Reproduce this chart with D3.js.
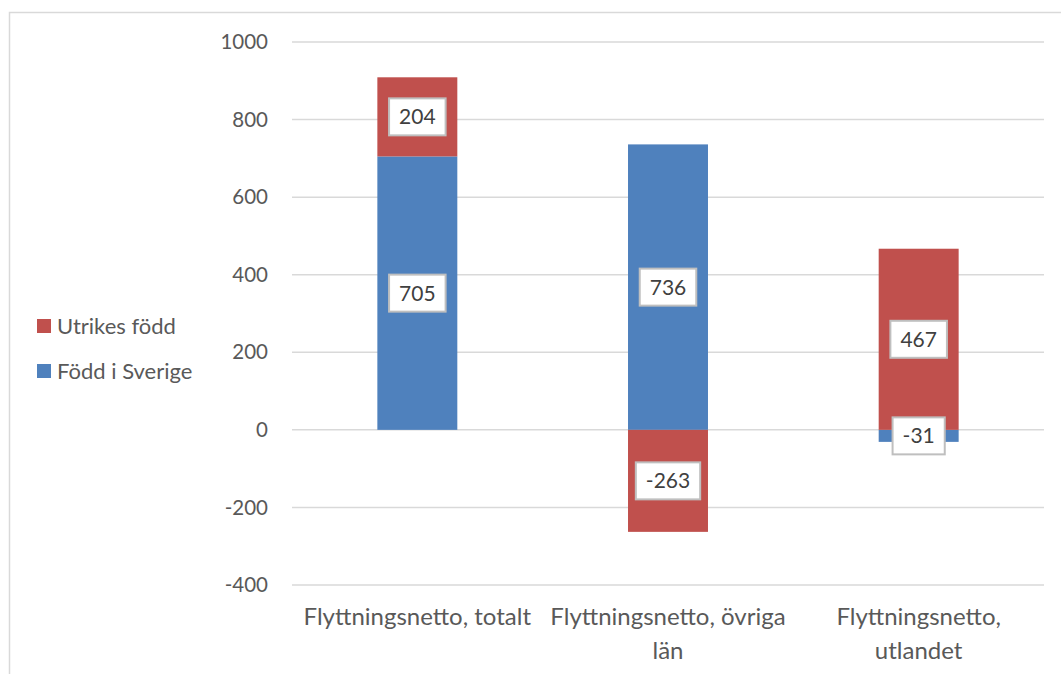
<!DOCTYPE html>
<html>
<head>
<meta charset="utf-8">
<script src="https://cdn.jsdelivr.net/npm/d3@7"></script>
<style>
  body { margin: 0; background: #fff; }
  text { font-family: Lato, "Open Sans", sans-serif; }
</style>
</head>
<body>
<svg id="chart" width="1061" height="674"></svg>
<script>
// chart data
var categories = ["Flyttningsnetto, totalt", "Flyttningsnetto, övriga\nlän", "Flyttningsnetto,\nutlandet"];
var seriesNames = ["Född i Sverige", "Utrikes född"];
var foddISverige = [705, 736, -31];
var utrikesFodd = [204, -263, 467];
var yTicks = [-400, -200, 0, 200, 400, 600, 800, 1000];

var colors = {"Född i Sverige": "#4f81bd", "Utrikes född": "#c0504d"};

var svg = d3.select("#chart");

// outer frame
svg.append("rect")
  .attr("x", 9.5).attr("y", 12.5)
  .attr("width", 1070).attr("height", 680)
  .attr("fill", "none")
  .attr("stroke", "#d9d9d9")
  .attr("stroke-width", 1.5);

var left = 292, right = 1044;

var x = d3.scaleBand()
  .domain(categories)
  .range([left, right])
  .paddingInner(0.681)
  .paddingOuter(0.3405);

var y = d3.scaleLinear()
  .domain([-400, 1000])
  .range([585, 42]);

// gridlines + y labels
var grid = svg.append("g");
grid.selectAll("line")
  .data(yTicks)
  .enter()
  .append("line")
  .attr("x1", left).attr("x2", right)
  .attr("y1", function (d) { return y(d); })
  .attr("y2", function (d) { return y(d); })
  .attr("stroke", "#d9d9d9")
  .attr("stroke-width", 1.5);

grid.selectAll("text")
  .data(yTicks)
  .enter()
  .append("text")
  .attr("x", 268)
  .attr("y", function (d) { return y(d); })
  .attr("dy", "0.35em")
  .attr("text-anchor", "end")
  .attr("font-size", 20.5)
  .attr("fill", "#595959")
  .text(function (d) { return d; });

// stacked bars (diverging)
var rows = categories.map(function (c, i) {
  return {cat: c, "Född i Sverige": foddISverige[i], "Utrikes född": utrikesFodd[i]};
});

var stack = d3.stack()
  .keys(seriesNames)
  .offset(d3.stackOffsetDiverging);
var layers = stack(rows);

var bars = svg.append("g");
layers.forEach(function (layer) {
  bars.selectAll(null)
    .data(layer)
    .enter()
    .append("rect")
    .attr("x", function (d) { return x(d.data.cat); })
    .attr("width", x.bandwidth())
    .attr("y", function (d) { return y(Math.max(d[0], d[1])); })
    .attr("height", function (d) { return Math.abs(y(d[0]) - y(d[1])); })
    .attr("fill", colors[layer.key]);
});

// data labels in boxes
var labels = svg.append("g");
layers.forEach(function (layer) {
  layer.forEach(function (d) {
    var cx = x(d.data.cat) + x.bandwidth() / 2;
    var cy = y((d[0] + d[1]) / 2);
    var g = labels.append("g");
    var t = g.append("text")
      .attr("x", cx).attr("y", cy)
      .attr("dy", "0.36em")
      .attr("text-anchor", "middle")
      .attr("font-size", 21)
      .attr("fill", "#404040")
      .text(d.data[layer.key]);
    var w = t.node().getComputedTextLength() + 20;
    g.insert("rect", "text")
      .attr("x", cx - w / 2).attr("y", cy - 18.5)
      .attr("width", w).attr("height", 37)
      .attr("fill", "#fff")
      .attr("stroke", "#bfbfbf")
      .attr("stroke-width", 2);
  });
});

// category labels
var cats = svg.append("g");
categories.forEach(function (c) {
  var t = cats.append("text")
    .attr("text-anchor", "middle")
    .attr("font-size", 24)
    .attr("fill", "#595959");
  c.split("\n").forEach(function (line, i) {
    t.append("tspan")
      .attr("x", x(c) + x.bandwidth() / 2)
      .attr("y", 625 + i * 34)
      .text(line);
  });
});

// legend
var legendItems = ["Utrikes född", "Född i Sverige"];
var legend = svg.append("g");
legendItems.forEach(function (name, i) {
  var ly = 326 + i * 45;
  legend.append("rect")
    .attr("x", 37).attr("y", ly - 7)
    .attr("width", 14).attr("height", 14)
    .attr("fill", colors[name]);
  legend.append("text")
    .attr("x", 57).attr("y", ly)
    .attr("dy", "0.35em")
    .attr("font-size", 22)
    .attr("fill", "#595959")
    .text(name);
});
</script>
</body>
</html>
